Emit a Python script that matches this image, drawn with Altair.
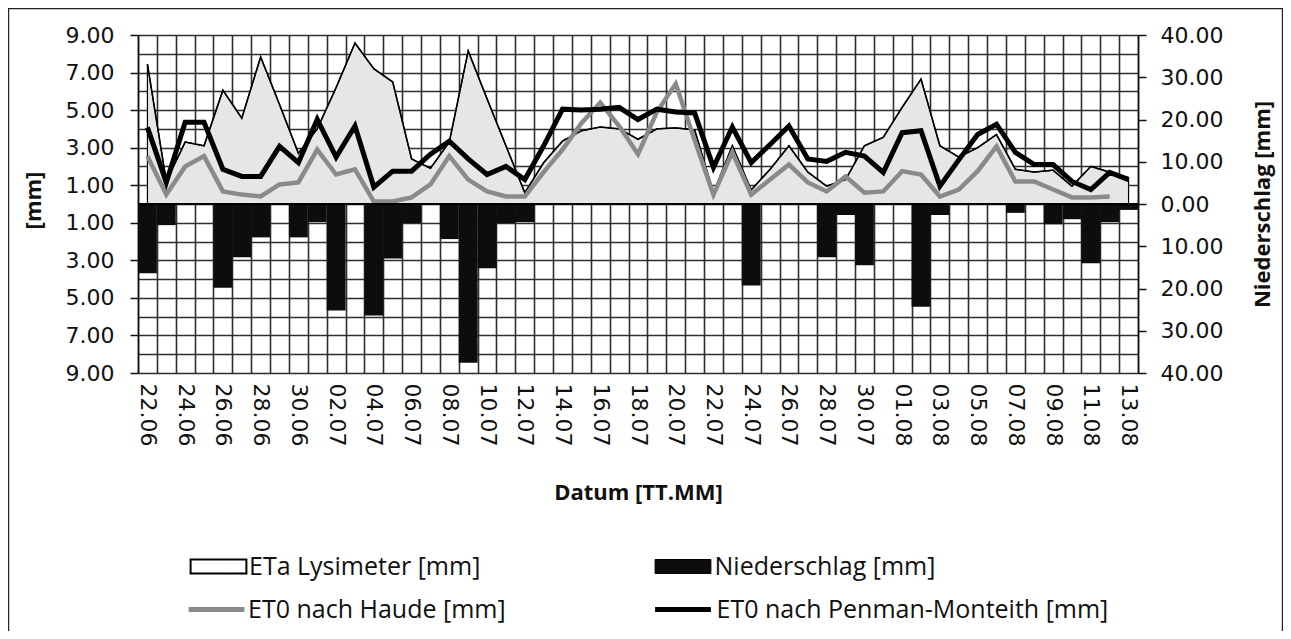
import json
import altair as alt
import pandas as pd

dates = ["22.06", "23.06", "24.06", "25.06", "26.06", "27.06", "28.06", "29.06", "30.06",
         "01.07", "02.07", "03.07", "04.07", "05.07", "06.07", "07.07", "08.07", "09.07", "10.07",
         "11.07", "12.07", "13.07", "14.07", "15.07", "16.07", "17.07", "18.07", "19.07", "20.07",
         "21.07", "22.07", "23.07", "24.07", "25.07", "26.07", "27.07", "28.07", "29.07", "30.07",
         "31.07", "01.08", "02.08", "03.08", "04.08", "05.08", "06.08", "07.08", "08.08", "09.08",
         "10.08", "11.08", "12.08", "13.08"]

eta_lysimeter = [7.45, 1.2, 3.3, 3.1, 6.06, 4.57, 7.83, 5.3, 2.7, 4.0, 6.2, 8.57, 7.2, 6.5, 2.4,
                 1.9, 3.3, 8.15, 5.6, 3.1, 0.6, 2.2, 3.35, 3.9, 4.1, 4.0, 3.45, 4.0, 4.05, 3.95,
                 0.6, 3.1, 0.75, 1.85, 3.1, 1.7, 0.95, 1.3, 3.1, 3.55, 5.15, 6.65, 3.1, 2.5, 3.0,
                 3.7, 1.85, 1.7, 1.8, 0.95, 2.0, 1.7, 1.4]

et0_haude = [2.55, 0.5, 2.0, 2.55, 0.67, 0.5, 0.4, 1.04, 1.15, 2.9, 1.57, 1.85, 0.13, 0.13, 0.35,
             1.04, 2.55, 1.3, 0.67, 0.4, 0.4, 1.7, 2.9, 4.3, 5.4, 4.15, 2.65, 4.9, 6.4, 3.4,
             0.5, 2.75, 0.5, 1.3, 2.1, 1.15, 0.67, 1.47, 0.6, 0.67, 1.75, 1.57, 0.4, 0.77, 1.75,
             3.07, 1.2, 1.2, 0.77, 0.35, 0.35, 0.4, None]

et0_penman = [4.08, 1.15, 4.35, 4.35, 1.85, 1.47, 1.47, 3.07, 2.2, 4.5, 2.5, 4.15, 0.9, 1.75, 1.75,
              2.65, 3.35, 2.4, 1.57, 2.0, 1.3, 3.1, 5.05, 5.0, 5.05, 5.15, 4.5, 5.05, 4.9, 4.85,
              1.95, 4.1, 2.2, 3.17, 4.15, 2.4, 2.27, 2.75, 2.55, 1.68, 3.8, 3.9, 0.95, 2.35, 3.7,
              4.25, 2.75, 2.1, 2.1, 1.2, 0.77, 1.68, 1.3]

niederschlag = [16.4, 5.0, 0, 0, 19.8, 12.6, 7.9, 0, 7.9, 4.3, 25.2, 0, 26.4, 12.9, 4.5,
                0, 8.3, 37.6, 15.2, 4.5, 4.3, 0, 0, 0, 0, 0, 0, 0, 0, 0,
                0, 0, 19.3, 0, 0, 0, 12.6, 2.6, 14.5, 0, 0, 24.3, 2.6, 0, 0,
                0, 2.1, 0, 4.8, 3.6, 14.0, 4.3, 1.4]

series_names = ["ETa Lysimeter [mm]", "Niederschlag [mm]", "ET0 nach Haude [mm]",
                "ET0 nach Penman-Monteith [mm]"]

x_label_dates = dates[::2]
left_ticks = list(range(-9, 10))
right_ticks = list(range(-40, 41, 10))

df = pd.DataFrame({"date": dates, "eta": eta_lysimeter, "haude": et0_haude,
                   "pm": et0_penman, "rain": niederschlag})

TICK_FONT = "DejaVu Sans"
TXT_FONT = "Open Sans"
GRID = "#2e2e2e"
INK = "#111111"

lab_list = json.dumps(x_label_dates).replace('"', "'")

x_axis = alt.Axis(title="Datum [TT.MM]", tickBand="extent", grid=True, gridColor=GRID,
                  gridWidth=1.6, ticks=False, domain=False, labelAngle=90, labelPadding=10,
                  labelFont=TICK_FONT, labelFontSize=22, labelColor=INK, labelOverlap=False,
                  labelExpr=f"indexof({lab_list}, datum.value) >= 0 ? datum.value : ''",
                  titleFont=TXT_FONT, titleFontSize=22, titleFontWeight="bold", titleColor=INK,
                  titleX=500, titleY=119, titleAlign="center", titleBaseline="middle")
x_scale = alt.Scale(domain=dates, paddingInner=0, paddingOuter=0)


def X():
    return alt.X("date:N", scale=x_scale, axis=x_axis)


odd = "abs(datum.value) % 2 == 1"
y_left_axis = alt.Axis(title="[mm]", values=left_ticks, grid=True, gridColor=GRID, gridWidth=1.6,
                       domain=True, domainColor=INK, domainWidth=1.5, tickColor=INK, tickWidth=1.5,
                       tickSize=8, tickOpacity={"condition": {"test": odd, "value": 1}, "value": 0},
                       labelExpr=f"{odd} ? format(abs(datum.value), '.2f') : ''",
                       labelOverlap=False, labelFlush=False, labelPadding=16,
                       labelFont=TICK_FONT, labelFontSize=22, labelColor=INK,
                       titleFont=TXT_FONT, titleFontSize=22, titleFontWeight="bold", titleColor=INK,
                       titleAngle=270, titleX=-105, titleY=165, titleAlign="center",
                       titleBaseline="middle")
y_left_scale = alt.Scale(domain=[-9, 9], nice=False)


def YL(f):
    return alt.Y(f, scale=y_left_scale, axis=y_left_axis)


y_right_axis = alt.Axis(orient="right", title="Niederschlag [mm]", values=right_ticks, grid=False,
                        domain=True, domainColor=INK, domainWidth=1.5, tickColor=INK, tickWidth=1.5,
                        tickSize=8, labelExpr="format(abs(datum.value), '.2f')",
                        labelOverlap=False, labelFlush=False, labelPadding=14,
                        labelFont=TICK_FONT, labelFontSize=22, labelColor=INK,
                        titleFont=TXT_FONT, titleFontSize=22, titleFontWeight="bold",
                        titleColor=INK, titleAngle=270, titleX=124, titleY=169,
                        titleAlign="center", titleBaseline="middle")

RECT = "M-3,-0.75H3V0.75H-3Z"
LINE = "M-3,0H3"


def legend(lx, ly, stype, sw, off, **kw):
    return alt.Legend(orient="none", legendX=lx, legendY=ly, title=None, padding=0,
                      symbolType=stype, symbolSize=346, symbolStrokeWidth=sw,
                      symbolStrokeColor="black", labelFont=TXT_FONT, labelFontSize=25,
                      labelLimit=1000, labelColor=INK, labelOffset=off, **kw)


def tagged(name):
    return alt.Chart(df).transform_calculate(series=f"'{name}'")


area = alt.Chart(df).mark_area(fill="#e6e6e6", stroke="black", strokeWidth=1.2).encode(
    x=X(), y=YL("eta:Q"), y2=alt.Y2(datum=0))

eta_line = tagged(series_names[0]).mark_line(color="black", strokeWidth=1.6).encode(
    x=X(), y=YL("eta:Q"),
    strokeDash=alt.StrokeDash("series:N",
                              scale=alt.Scale(domain=[series_names[0]], range=[[1, 0]]),
                              legend=legend(68, 519, RECT, 2, 18, symbolFillColor="white")))

haude_line = tagged(series_names[2]).mark_line(strokeWidth=4.5).encode(
    x=X(), y=YL("haude:Q"),
    stroke=alt.Stroke("series:N",
                      scale=alt.Scale(domain=[series_names[2]], range=["#8a8a8a"]),
                      legend=legend(66, 562, LINE, 5, 19)))

pm_line = tagged(series_names[3]).mark_line(strokeWidth=5).encode(
    x=X(), y=YL("pm:Q"),
    color=alt.Color("series:N",
                    scale=alt.Scale(domain=[series_names[3]], range=["#000000"]),
                    legend=legend(532.5, 562, LINE, 5, 21)))

zero_rule = alt.Chart(pd.DataFrame({"z": [0]})).mark_rule(color="black", strokeWidth=2).encode(
    y=YL("z:Q"))

frame = alt.Chart(pd.DataFrame({"f": [0]})).mark_rect(
    fill="transparent", stroke="#222222", strokeWidth=1.2).encode(
    x=alt.value(-129.4), x2=alt.value(1144.4), y=alt.value(-26.4), y2=alt.value(640))

bars = tagged(series_names[1]).transform_calculate(neg="-datum.rain").mark_bar().encode(
    x=X(),
    y=alt.Y("neg:Q", scale=alt.Scale(domain=[-40, 40], nice=False), axis=y_right_axis),
    y2=alt.Y2(datum=0),
    fill=alt.Fill("series:N",
                  scale=alt.Scale(domain=[series_names[1]], range=["#0d0d0d"]),
                  legend=legend(532.5, 519, RECT, 1, 19)))

left = alt.layer(area, eta_line, haude_line, pm_line, zero_rule, frame)

chart = alt.layer(bars, left).resolve_scale(y="independent").properties(
    width=1000, height=338,
    padding={"left": 130, "top": 27, "right": 145, "bottom": 258},
    autosize=alt.AutoSizeParams(type="none"),
).configure(background="white").configure_view(stroke="transparent")

chart.save("out.html", embed_options={"renderer": "svg", "actions": False})
